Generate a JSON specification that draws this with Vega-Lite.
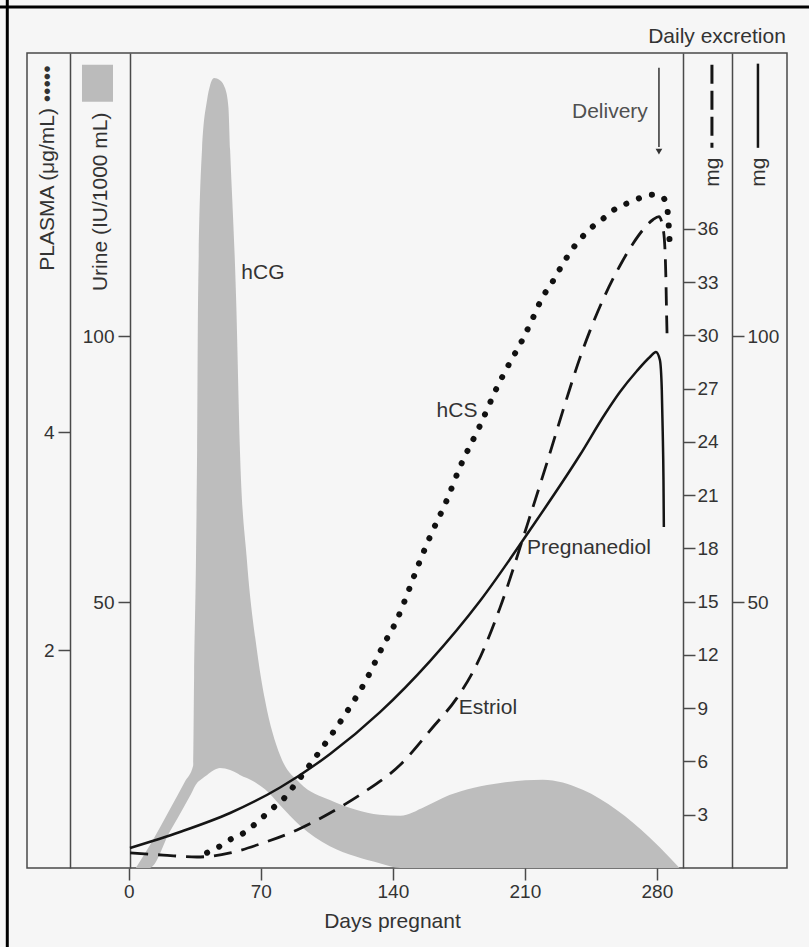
{
  "$schema": "https://vega.github.io/schema/vega-lite/v6.json",
  "autosize": "none",
  "width": 760,
  "height": 815,
  "padding": {"left": 27, "top": 53, "right": 22, "bottom": 79},
  "background": "#f6f6f6",
  "config": {
    "view": {"stroke": "#4a4a4a", "strokeWidth": 1.5},
    "axis": {
      "grid": false,
      "labelFont": "Liberation Sans",
      "titleFont": "Liberation Sans",
      "labelFontSize": 19,
      "titleFontSize": 21,
      "titleFontWeight": "normal",
      "labelColor": "#333333",
      "titleColor": "#333333",
      "domainColor": "#4a4a4a",
      "tickColor": "#4a4a4a",
      "domainWidth": 1.5,
      "tickWidth": 1.5,
      "labelOverlap": false
    },
    "text": {"font": "Liberation Sans", "fontSize": 21, "fill": "#333333"}
  },
  "datasets": {
    "hcg": [
      {"day": 3.7, "hi": 0, "lo": 0},
      {"day": 11, "hi": 4.2, "lo": 0},
      {"day": 21.7, "hi": 11, "lo": 6.8},
      {"day": 29.7, "hi": 16.2, "lo": 11.8},
      {"day": 34.1, "hi": 19.2, "lo": 14.7},
      {"day": 34.6, "hi": 35.9, "lo": 15.1},
      {"day": 35.6, "hi": 57.9, "lo": 15.7},
      {"day": 36.2, "hi": 78.6, "lo": 16},
      {"day": 36.7, "hi": 106.8, "lo": 16.2},
      {"day": 38.8, "hi": 135, "lo": 16.8},
      {"day": 41.5, "hi": 144.4, "lo": 17.5},
      {"day": 43, "hi": 147, "lo": 17.9},
      {"day": 45.2, "hi": 148.5, "lo": 18.4},
      {"day": 48.3, "hi": 148.1, "lo": 18.8},
      {"day": 51, "hi": 146.6, "lo": 18.7},
      {"day": 52.8, "hi": 143, "lo": 18.5},
      {"day": 53.7, "hi": 135, "lo": 18.4},
      {"day": 56.9, "hi": 106.8, "lo": 17.9},
      {"day": 58.9, "hi": 78.6, "lo": 17.5},
      {"day": 62.6, "hi": 57.9, "lo": 16.9},
      {"day": 67.9, "hi": 41, "lo": 15.9},
      {"day": 72.2, "hi": 31.6, "lo": 14.8},
      {"day": 80.2, "hi": 21.2, "lo": 11.8},
      {"day": 90.7, "hi": 16, "lo": 8.0},
      {"day": 106.6, "hi": 12.8, "lo": 4.1},
      {"day": 120, "hi": 11, "lo": 2.2},
      {"day": 133, "hi": 10, "lo": 0.9},
      {"day": 144, "hi": 9.8, "lo": 0},
      {"day": 157, "hi": 11.5, "lo": 0},
      {"day": 170, "hi": 13.7, "lo": 0},
      {"day": 183, "hi": 15.1, "lo": 0},
      {"day": 197, "hi": 16, "lo": 0},
      {"day": 219.5, "hi": 16.6, "lo": 0},
      {"day": 240.7, "hi": 14.7, "lo": 0},
      {"day": 258.7, "hi": 10.9, "lo": 0},
      {"day": 276, "hi": 5.8, "lo": 0},
      {"day": 287, "hi": 1.9, "lo": 0},
      {"day": 292, "hi": 0, "lo": 0}
    ],
    "hcs": [
      {"day": 41.5, "v": 0.14}, {"day": 47.3, "v": 0.19}, {"day": 53.6, "v": 0.26},
      {"day": 58.9, "v": 0.30}, {"day": 65.3, "v": 0.38}, {"day": 70.6, "v": 0.46},
      {"day": 76.4, "v": 0.55}, {"day": 81.8, "v": 0.63}, {"day": 86.5, "v": 0.73},
      {"day": 102.4, "v": 1.10}, {"day": 115.1, "v": 1.42}, {"day": 126.3, "v": 1.74},
      {"day": 134.8, "v": 2.04}, {"day": 142.2, "v": 2.28}, {"day": 148, "v": 2.53},
      {"day": 152.8, "v": 2.75}, {"day": 159.7, "v": 3.04}, {"day": 168.7, "v": 3.38},
      {"day": 175.6, "v": 3.68}, {"day": 186.2, "v": 4.06}, {"day": 195.2, "v": 4.41},
      {"day": 202.1, "v": 4.64}, {"day": 208.5, "v": 4.84}, {"day": 213.8, "v": 5.03},
      {"day": 219.1, "v": 5.23}, {"day": 225, "v": 5.39}, {"day": 230.3, "v": 5.55},
      {"day": 235.6, "v": 5.69}, {"day": 240.9, "v": 5.80}, {"day": 246.2, "v": 5.89},
      {"day": 251.5, "v": 5.96}, {"day": 258.9, "v": 6.06}, {"day": 265.8, "v": 6.11},
      {"day": 272.7, "v": 6.16}, {"day": 278, "v": 6.18}, {"day": 282.8, "v": 6.16},
      {"day": 284.9, "v": 6.10}, {"day": 286, "v": 5.97}, {"day": 286.5, "v": 5.83},
      {"day": 287, "v": 5.67}
    ],
    "estriol": [
      {"day": 0.7, "v": 0.85}, {"day": 18.1, "v": 0.73}, {"day": 36.1, "v": 0.62},
      {"day": 53.7, "v": 0.85}, {"day": 71.2, "v": 1.41}, {"day": 89.2, "v": 2.14},
      {"day": 106.7, "v": 3.10}, {"day": 124.2, "v": 4.23}, {"day": 143.8, "v": 5.80},
      {"day": 161.3, "v": 7.94}, {"day": 174.0, "v": 9.58}, {"day": 184.6, "v": 11.49},
      {"day": 196.8, "v": 14.65}, {"day": 211.1, "v": 19.27}, {"day": 221.7, "v": 22.82},
      {"day": 232.3, "v": 26.48}, {"day": 239.2, "v": 28.73}, {"day": 244.5, "v": 30.25},
      {"day": 251.4, "v": 32.0}, {"day": 260.4, "v": 33.92}, {"day": 267.3, "v": 35.16},
      {"day": 272.6, "v": 35.94}, {"day": 277.9, "v": 36.51}, {"day": 281.1, "v": 36.68},
      {"day": 283.2, "v": 36.06}, {"day": 284.3, "v": 34.82}, {"day": 284.8, "v": 33.13},
      {"day": 285.1, "v": 31.44}, {"day": 285.4, "v": 30.03}
    ],
    "preg": [
      {"day": 0.6, "v": 3.76}, {"day": 27.1, "v": 6.77}, {"day": 53.7, "v": 10.34},
      {"day": 80.2, "v": 15.13}, {"day": 106.7, "v": 21.43}, {"day": 133.2, "v": 29.3},
      {"day": 159.7, "v": 38.9}, {"day": 186.2, "v": 50.19}, {"day": 212.7, "v": 63.53},
      {"day": 239.2, "v": 77.63}, {"day": 252.5, "v": 85.34}, {"day": 260.4, "v": 89.47},
      {"day": 269.4, "v": 93.42}, {"day": 276.3, "v": 96.05}, {"day": 279.5, "v": 96.99},
      {"day": 281.6, "v": 95.5}, {"day": 282.6, "v": 90}, {"day": 283.1, "v": 82},
      {"day": 283.5, "v": 73}, {"day": 283.7, "v": 64.1}
    ],
    "one": [{}]
  },
  "resolve": {"scale": {"y": "independent"}, "axis": {"y": "independent"}},
  "layer": [
    {
      "data": {"name": "hcg"},
      "mark": {"type": "area", "interpolate": "monotone", "color": "#bdbdbd"},
      "encoding": {
        "x": {
          "field": "day", "type": "quantitative",
          "scale": {"domain": [-54, 349], "nice": false, "zero": false},
          "axis": {
            "orient": "bottom",
            "values": [0, 70, 140, 210, 280], "domain": false, "tickSize": 12,
            "labelPadding": 2, "labelFlush": false,
            "title": "Days pregnant", "titleX": 365, "titleY": 53,
            "titleBaseline": "middle", "titleAlign": "center"
          }
        },
        "y": {
          "field": "hi", "type": "quantitative",
          "scale": {"domain": [0, 153.2], "nice": false, "zero": false},
          "axis": {
            "orient": "left", "offset": -103, "values": [50, 100], "tickSize": 12,
            "labelPadding": 4, "title": "Urine (IU/1000 mL)", "titleAngle": 270,
            "titleX": -30, "titleY": 59, "titleAlign": "right", "titleBaseline": "middle"
          }
        },
        "y2": {"field": "lo"}
      }
    },
    {
      "data": {"name": "preg"},
      "mark": {"type": "line", "interpolate": "monotone", "color": "#151515", "strokeWidth": 2.5},
      "encoding": {
        "x": {"field": "day", "type": "quantitative"},
        "y": {
          "field": "v", "type": "quantitative",
          "scale": {"domain": [0, 153.2], "nice": false, "zero": false},
          "axis": {
            "orient": "right", "offset": -55, "values": [50, 100], "tickSize": 12,
            "labelPadding": 3, "title": "mg", "titleAngle": 270,
            "titleX": 26, "titleY": 104, "titleAlign": "right", "titleBaseline": "middle"
          }
        }
      }
    },
    {
      "data": {"name": "estriol"},
      "mark": {"type": "line", "interpolate": "monotone", "color": "#151515", "strokeWidth": 2.8, "strokeDash": [18, 10]},
      "encoding": {
        "x": {"field": "day", "type": "quantitative"},
        "y": {
          "field": "v", "type": "quantitative",
          "scale": {"domain": [0, 45.9], "nice": false, "zero": false},
          "axis": {
            "orient": "right", "offset": -104,
            "values": [3, 6, 9, 12, 15, 18, 21, 24, 27, 30, 33, 36], "tickSize": 12,
            "labelPadding": 2, "title": "mg", "titleAngle": 270,
            "titleX": 29, "titleY": 104, "titleAlign": "right", "titleBaseline": "middle"
          }
        }
      }
    },
    {
      "data": {"name": "hcs"},
      "mark": {"type": "line", "interpolate": "monotone", "color": "#111111", "strokeWidth": 6, "strokeCap": "round", "strokeDash": [0.1, 13.5]},
      "encoding": {
        "x": {"field": "day", "type": "quantitative"},
        "y": {
          "field": "v", "type": "quantitative",
          "scale": {"domain": [0, 7.48], "nice": false, "zero": false},
          "axis": {
            "orient": "left", "offset": -43, "values": [2, 4], "tickSize": 12,
            "labelPadding": 4, "title": "PLASMA (μg/mL) •••••", "titleAngle": 270,
            "titleX": -23, "titleY": 12, "titleAlign": "right", "titleBaseline": "middle"
          }
        }
      }
    },
    {
      "data": {"name": "one"},
      "mark": {"type": "rule", "color": "#000000", "strokeWidth": 3},
      "encoding": {
        "x": {"datum": -80}, "x2": {"datum": 400},
        "y": {"datum": 48.49, "scale": {"domain": [0, 45.9], "nice": false, "zero": false}, "axis": null}
      }
    },
    {
      "data": {"name": "one"},
      "mark": {"type": "rule", "color": "#000000", "strokeWidth": 3},
      "encoding": {
        "x": {"datum": -64.45},
        "y": {"datum": 49, "scale": {"domain": [0, 45.9], "nice": false, "zero": false}, "axis": null},
        "y2": {"datum": -6}
      }
    },
    {
      "data": {"name": "one"},
      "mark": {"type": "rect", "color": "#bbbbbb"},
      "encoding": {
        "x": {"datum": -24.84}, "x2": {"datum": -8.4},
        "y": {"datum": 45.24, "scale": {"domain": [0, 45.9], "nice": false, "zero": false}, "axis": null},
        "y2": {"datum": 43.15}
      }
    },
    {
      "data": {"name": "one"},
      "mark": {"type": "rule", "color": "#151515", "strokeWidth": 3, "strokeDash": [19, 7]},
      "encoding": {
        "x": {"datum": 309.2},
        "y": {"datum": 45.24, "scale": {"domain": [0, 45.9], "nice": false, "zero": false}, "axis": null},
        "y2": {"datum": 40.56}
      }
    },
    {
      "data": {"name": "one"},
      "mark": {"type": "rule", "color": "#151515", "strokeWidth": 2.5},
      "encoding": {
        "x": {"datum": 333.6},
        "y": {"datum": 45.3, "scale": {"domain": [0, 45.9], "nice": false, "zero": false}, "axis": null},
        "y2": {"datum": 40.56}
      }
    },
    {
      "data": {"name": "one"},
      "mark": {"type": "rule", "color": "#333333", "strokeWidth": 1.5},
      "encoding": {
        "x": {"datum": 281.1},
        "y": {"datum": 45.07, "scale": {"domain": [0, 45.9], "nice": false, "zero": false}, "axis": null},
        "y2": {"datum": 40.6}
      }
    },
    {
      "data": {"name": "one"},
      "mark": {"type": "point", "shape": "triangle-down", "filled": true, "size": 45, "color": "#333333", "opacity": 1},
      "encoding": {
        "x": {"datum": 281.1},
        "y": {"datum": 40.35, "scale": {"domain": [0, 45.9], "nice": false, "zero": false}, "axis": null}
      }
    },
    {
      "data": {"name": "one"},
      "mark": {"type": "text", "align": "center", "baseline": "middle"},
      "encoding": {
        "x": {"datum": 71.1},
        "y": {"datum": 33.5, "scale": {"domain": [0, 45.9], "nice": false, "zero": false}, "axis": null},
        "text": {"value": "hCG"}
      }
    },
    {
      "data": {"name": "one"},
      "mark": {"type": "text", "align": "center", "baseline": "middle"},
      "encoding": {
        "x": {"datum": 174.0},
        "y": {"datum": 25.75, "scale": {"domain": [0, 45.9], "nice": false, "zero": false}, "axis": null},
        "text": {"value": "hCS"}
      }
    },
    {
      "data": {"name": "one"},
      "mark": {"type": "text", "align": "center", "baseline": "middle"},
      "encoding": {
        "x": {"datum": 190.4},
        "y": {"datum": 9.0, "scale": {"domain": [0, 45.9], "nice": false, "zero": false}, "axis": null},
        "text": {"value": "Estriol"}
      }
    },
    {
      "data": {"name": "one"},
      "mark": {"type": "text", "align": "center", "baseline": "middle"},
      "encoding": {
        "x": {"datum": 244.0},
        "y": {"datum": 18.03, "scale": {"domain": [0, 45.9], "nice": false, "zero": false}, "axis": null},
        "text": {"value": "Pregnanediol"}
      }
    },
    {
      "data": {"name": "one"},
      "mark": {"type": "text", "align": "center", "baseline": "middle", "fill": "#505050"},
      "encoding": {
        "x": {"datum": 255.1},
        "y": {"datum": 42.6, "scale": {"domain": [0, 45.9], "nice": false, "zero": false}, "axis": null},
        "text": {"value": "Delivery"}
      }
    },
    {
      "data": {"name": "one"},
      "mark": {"type": "text", "align": "center", "baseline": "middle"},
      "encoding": {
        "x": {"datum": 311.9},
        "y": {"datum": 46.8, "scale": {"domain": [0, 45.9], "nice": false, "zero": false}, "axis": null},
        "text": {"value": "Daily excretion"}
      }
    }
  ]
}
